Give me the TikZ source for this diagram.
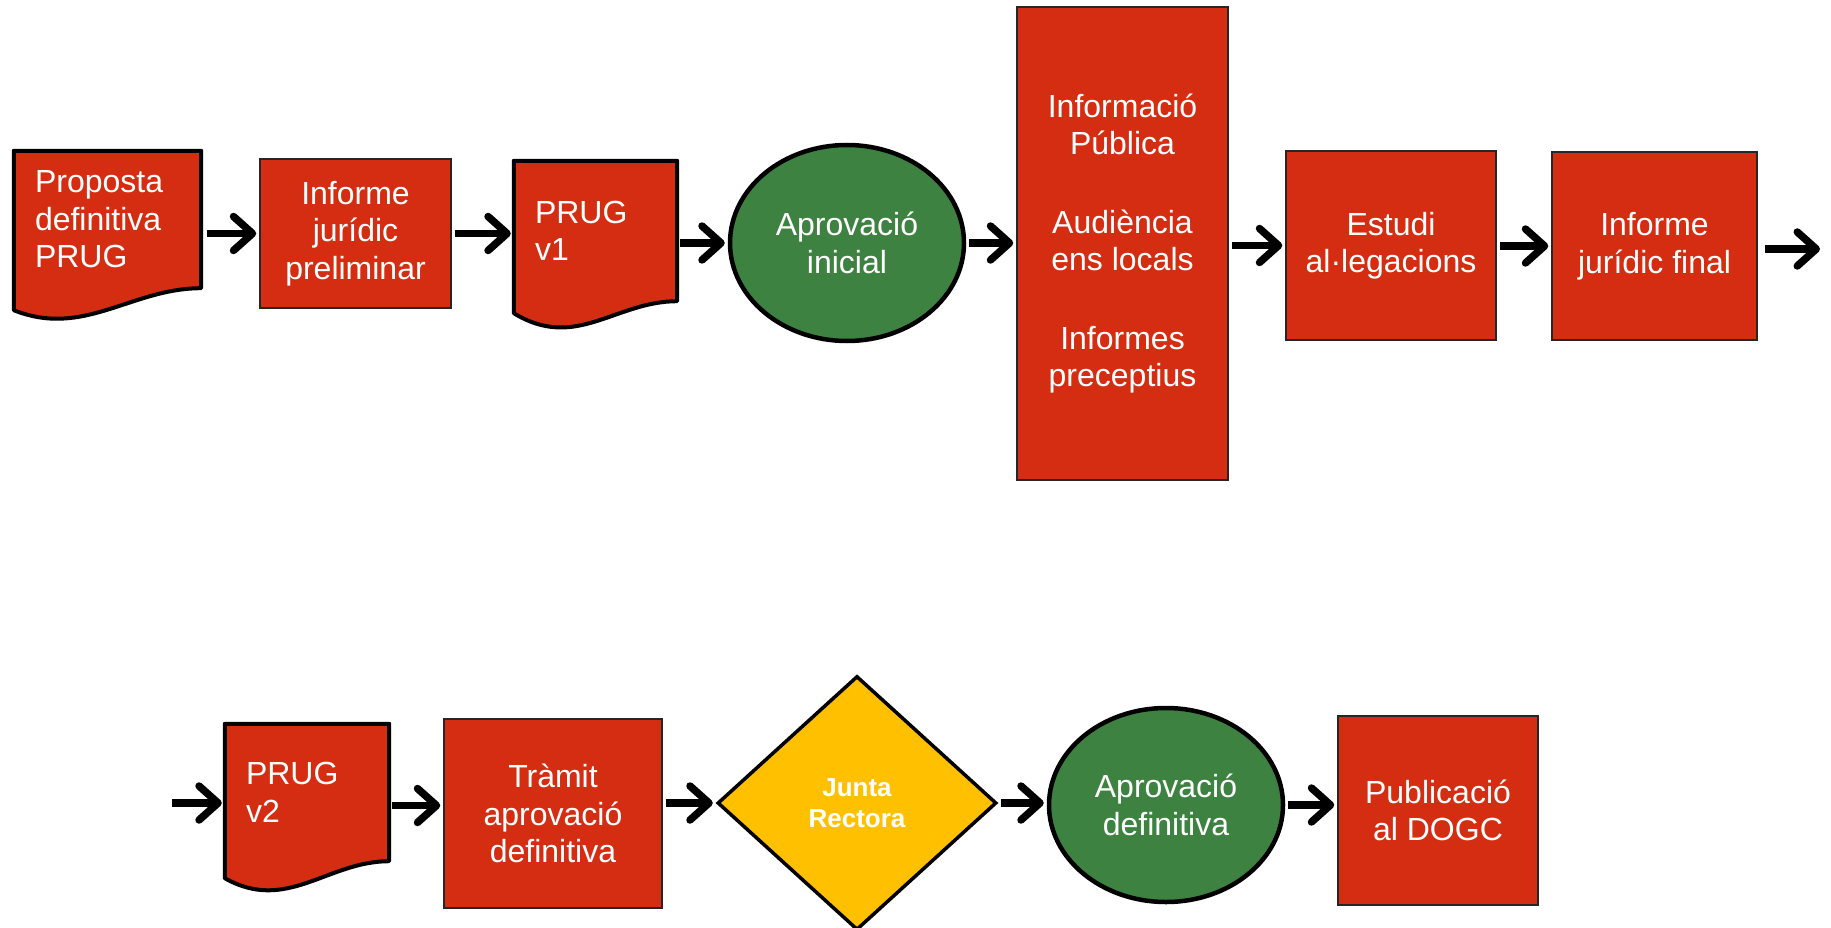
\documentclass[tikz,border=0pt]{standalone}
\usepackage{fontspec}
\setmainfont{Liberation Sans}
\usetikzlibrary{shapes.geometric,arrows.meta,backgrounds}

\definecolor{prugred}{RGB}{213,45,18}
\definecolor{pruggreen}{RGB}{62,130,65}
\definecolor{prugyellow}{RGB}{255,192,0}

\tikzset{
  stepbox/.style={rectangle, fill=prugred, draw=black!85, line width=1.5pt,
    text=white, align=center, inner sep=0pt, font=\fontsize{32}{37.5}\selectfont},
  docbox/.style={rectangle, inner ysep=0pt, inner xsep=21pt, text=white,
    align=left, font=\fontsize{32}{37.5}\selectfont},
  docline/.style={fill=prugred, draw=black, line width=4pt, line join=round},
  approval/.style={ellipse, fill=pruggreen, draw=black, line width=4.5pt,
    text=white, align=center, inner sep=0pt, font=\fontsize{32}{37.5}\selectfont},
  decision/.style={diamond, fill=prugyellow, draw=black, line width=3.5pt,
    text=white, align=center, inner sep=0pt, font=\fontsize{26}{31}\selectfont\bfseries},
  flow/.style={line width=7.5pt, -{Straight Barb[length=19pt,width=34pt,round]},
    shorten <=3pt, shorten >=3pt}
}

\begin{document}
\begin{tikzpicture}[x=1pt,y=-1pt]
\useasboundingbox (0,0) rectangle (1831,928);

% Top row
\node[docbox, minimum width=187, minimum height=137, text width=145] (proposta) at (107.5,219.5) {Proposta\\definitiva\\PRUG};
\node[stepbox, minimum width=191, minimum height=149] (prelim) at (355.5,233.5) {Informe\\jurídic\\preliminar};
\node[docbox, minimum width=163, minimum height=140, text width=121] (prugv1) at (595.5,231) {PRUG\\v1};
\node[approval, minimum width=234, minimum height=196] (inicial) at (847,243) {Aprovació\\inicial};
\node[stepbox, minimum width=211, minimum height=473] (publica) at (1122.5,243.5)
  {Informació\\Pública\\[41pt]Audiència\\ens locals\\[41pt]Informes\\preceptius};
\node[stepbox, minimum width=210, minimum height=189] (estudi) at (1391,245.5) {Estudi\\al·legacions};
\node[stepbox, minimum width=205, minimum height=188] (final) at (1654.5,246) {Informe\\jurídic final};
\coordinate (sortida) at (1820,249);

% Bottom row
\coordinate (entrada) at (172,803);
\node[docbox, minimum width=164, minimum height=137, text width=122] (prugv2) at (307,792.5) {PRUG\\v2};
\node[stepbox, minimum width=218, minimum height=189] (tramit) at (553,813.5) {Tràmit\\aprovació\\definitiva};
\node[decision, minimum width=279, minimum height=254] (junta) at (857,803) {Junta\\Rectora};
\node[approval, minimum width=234, minimum height=194] (definitiva) at (1166,805) {Aprovació\\definitiva};
\node[stepbox, minimum width=200, minimum height=189] (dogc) at (1438,810.5) {Publicació\\al DOGC};

% Document outlines
\begin{scope}[on background layer]
\filldraw[docline] (proposta.north west) -- (proposta.north east) -- (proposta.south east)
  .. controls +(-70,0) and +(70,28) .. ([yshift=-22pt]proposta.south west) -- cycle;
\filldraw[docline] (prugv1.north west) -- (prugv1.north east) -- (prugv1.south east)
  .. controls +(-62,0) and +(62,38) .. ([yshift=-12pt]prugv1.south west) -- cycle;
\filldraw[docline] (prugv2.north west) -- (prugv2.north east) -- (prugv2.south east)
  .. controls +(-62,0) and +(62,35) .. ([yshift=-17pt]prugv2.south west) -- cycle;
\end{scope}

% Arrows
\draw[flow, shorten <=6pt] (proposta.east |- prelim.west) -- (prelim.west);
\draw[flow] (prelim.east) -- (prelim.east -| prugv1.west);
\draw[flow] (prugv1.east |- inicial.west) -- (inicial.west);
\draw[flow] (inicial.east) -- (inicial.east -| publica.west);
\draw[flow] (publica.east |- estudi.west) -- (estudi.west);
\draw[flow] (estudi.east |- final.west) -- (final.west);
\draw[flow, shorten <=7pt, shorten >=0pt] (final.east |- sortida) -- (sortida);
\draw[flow, shorten <=0pt] (entrada) -- (entrada -| prugv2.west);
\draw[flow] ([yshift=-13pt]prugv2.east) -- ([yshift=-13pt]prugv2.east -| tramit.west);
\draw[flow] (tramit.east |- junta.west) -- (junta.west);
\draw[flow] (junta.east) -- (junta.east -| definitiva.west);
\draw[flow] (definitiva.east) -- (definitiva.east -| dogc.west);
\end{tikzpicture}
\end{document}
